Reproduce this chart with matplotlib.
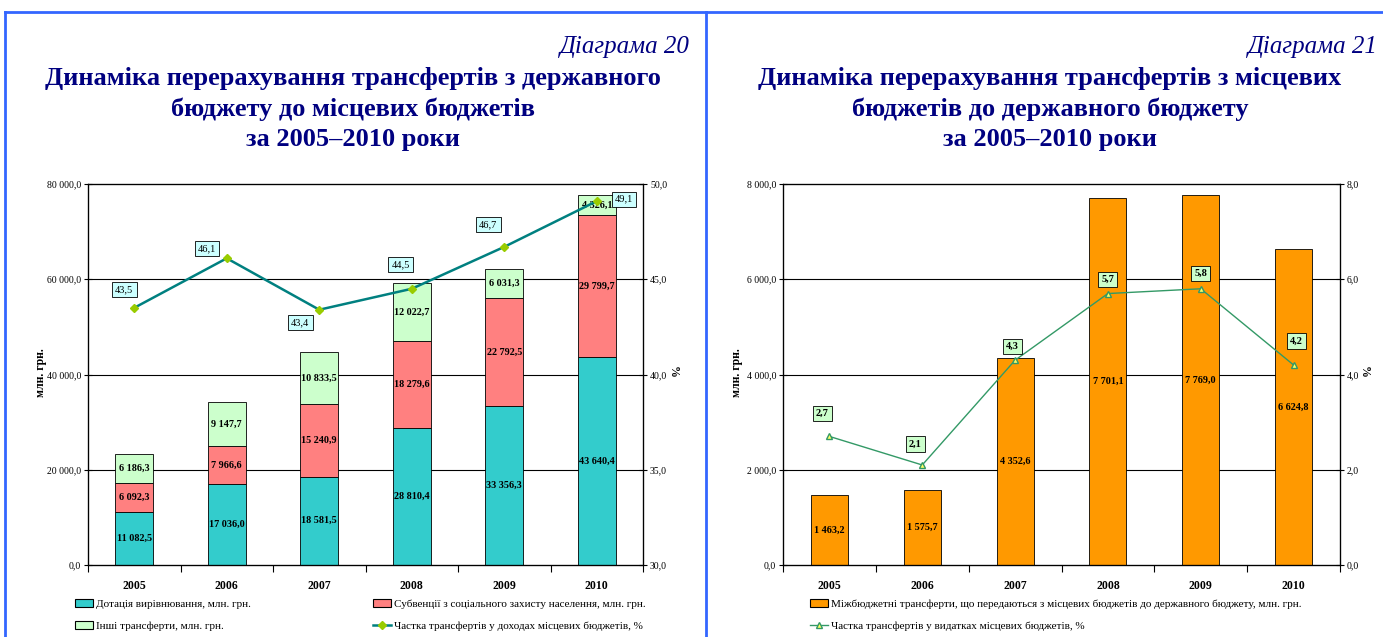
import numpy as np
import matplotlib
matplotlib.use("Agg")
import matplotlib.pyplot as plt
from matplotlib.patches import Patch
from matplotlib.lines import Line2D

plt.rcParams['font.family'] = ['Liberation Serif', 'DejaVu Serif']

years = ['2005', '2006', '2007', '2008', '2009', '2010']

# diagram 20: transfers from state budget to local budgets, mln UAH
dotacia = [11082.5, 17036.0, 18581.5, 28810.4, 33356.3, 43640.4]
subvencii = [6092.3, 7966.6, 15240.9, 18279.6, 22792.5, 29799.7]
inshi = [6186.3, 9147.7, 10833.5, 12022.7, 6031.3, 4326.1]
share_income = [43.5, 46.1, 43.4, 44.5, 46.7, 49.1]

# diagram 21: transfers from local budgets to state budget
mizhbudg = [1463.2, 1575.7, 4352.6, 7701.1, 7769.0, 6624.8]
share_spend = [2.7, 2.1, 4.3, 5.7, 5.8, 4.2]

W, H = 1383, 637
navy = '#000080'


def fmt(v):
    return f"{v:,.1f}".replace(",", " ").replace(".", ",")


def px(x, y):
    return x / W, 1 - y / H


fig = plt.figure(figsize=(W / 100, H / 100), dpi=100)
fig.patch.set_facecolor('white')

# blue frame
for xs, ys in [((5, W), (12, 12)), ((5, 5), (12, H)), ((706, 706), (12, H))]:
    fig.add_artist(Line2D([x / W for x in xs], [1 - y / H for y in ys], color='#3366FF', lw=2))

# titles
fig.text(*px(690, 47), 'Діаграма 20', ha='right', va='center', fontsize=18, style='italic', color=navy)
fig.text(*px(353, 109), 'Динаміка перерахування трансфертів з державного\nбюджету до місцевих бюджетів\nза 2005–2010 роки',
         ha='center', va='center', fontsize=19, fontweight='bold', color=navy, linespacing=1.38)
fig.text(*px(1378, 47), 'Діаграма 21', ha='right', va='center', fontsize=18, style='italic', color=navy)
fig.text(*px(1050, 109), 'Динаміка перерахування трансфертів з місцевих\nбюджетів до державного бюджету\nза 2005–2010 роки',
         ha='center', va='center', fontsize=19, fontweight='bold', color=navy, linespacing=1.38)

x = np.arange(len(years))


def style_axes(ax, ax2, ymax, ystep, y2lim, y2step):
    ax.set_facecolor('white')
    ax.set_xlim(-0.5, 5.5)
    ax.set_ylim(0, ymax)
    ax.set_yticks(np.arange(0, ymax + 1, ystep))
    ax.set_yticklabels([fmt(v) for v in np.arange(0, ymax + 1, ystep)])
    for v in np.arange(ystep, ymax, ystep):
        ax.axhline(v, color='black', lw=0.8, zorder=1)
    ax.set_xticks(x)
    ax.set_xticklabels(years, fontweight='bold', fontsize=8.5)
    ax.set_xticks(np.arange(-0.5, 6, 1), minor=True)
    ax.tick_params(axis='x', which='major', length=0, pad=11)
    ax.tick_params(axis='x', which='minor', length=5, direction='out', width=0.8)
    ax.tick_params(axis='y', labelsize=7, direction='inout', length=6, width=0.8, pad=2)
    for sp in ax.spines.values():
        sp.set_linewidth(0.9)
    ax2.set_ylim(*y2lim)
    t2 = np.arange(y2lim[0], y2lim[1] + 0.01, y2step)
    ax2.set_yticks(t2)
    ax2.set_yticklabels([fmt(v) for v in t2])
    ax2.tick_params(axis='y', labelsize=7, direction='inout', length=6, width=0.8, pad=2)


# ---- left chart
ax = fig.add_axes([88 / W, 72 / H, 555 / W, 381 / H])
ax2 = ax.twinx()
bw = 0.41
ax.bar(x, dotacia, bw, color='#33CCCC', edgecolor='black', lw=0.6, zorder=2)
ax.bar(x, subvencii, bw, bottom=dotacia, color='#FF8080', edgecolor='black', lw=0.6, zorder=2)
bot3 = np.array(dotacia) + np.array(subvencii)
ax.bar(x, inshi, bw, bottom=bot3, color='#CCFFCC', edgecolor='black', lw=0.6, zorder=2)
for bottoms, vals in [(np.zeros(6), dotacia), (np.array(dotacia), subvencii), (bot3, inshi)]:
    for i, v in enumerate(vals):
        ax.text(x[i], bottoms[i] + v / 2, fmt(v), ha='center', va='center', fontsize=7.3,
                fontweight='bold', zorder=3)
style_axes(ax, ax2, 80000, 20000, (30, 50), 5)
ax2.plot(x, share_income, color='#008080', lw=1.8, marker='D', ms=4.5, mfc='#99CC00', mec='#99CC00')
offs_l = [(-10, 18), (-20, 10), (-19, -13), (-11, 24), (-16, 22), (27, 2)]
for i, v in enumerate(share_income):
    ax2.annotate(fmt(v), (x[i], v), xytext=offs_l[i], textcoords='offset pixels', ha='center', va='center',
                 fontsize=7.5, bbox=dict(boxstyle='square,pad=0.3', fc='#CCFFFF', ec='black', lw=0.6))
fig.text(*px(41, 373), 'млн. грн.', rotation=90, ha='center', va='center', fontsize=8.5, fontweight='bold')
fig.text(*px(673, 372), '%', rotation=270, ha='center', va='center', fontsize=8.5, fontweight='bold')

leg_kw = dict(loc='center left', frameon=False, fontsize=8, borderaxespad=0, borderpad=0,
              handlelength=1.6, handletextpad=0.25, handleheight=0.8)
fig.legend([Patch(fc='#33CCCC', ec='black', lw=0.8)], ['Дотація вирівнювання, млн. грн.'],
           bbox_to_anchor=px(75, 604), **leg_kw)
fig.legend([Patch(fc='#FF8080', ec='black', lw=0.8)], ['Субвенції з соціального захисту населення, млн. грн.'],
           bbox_to_anchor=px(373, 604), **leg_kw)
fig.legend([Patch(fc='#CCFFCC', ec='black', lw=0.8)], ['Інші трансферти, млн. грн.'],
           bbox_to_anchor=px(75, 626), **leg_kw)
fig.legend([Line2D([], [], color='#008080', lw=1.8, marker='D', ms=4, mfc='#99CC00', mec='#99CC00')],
           ['Частка трансфертів у доходах місцевих бюджетів, %'], bbox_to_anchor=px(373, 626), **leg_kw)

# ---- right chart
bx = fig.add_axes([783 / W, 72 / H, 557 / W, 381 / H])
bx2 = bx.twinx()
bx.bar(x, mizhbudg, 0.4, color='#FF9900', edgecolor='black', lw=0.6, zorder=2)
for i, v in enumerate(mizhbudg):
    bx.text(x[i], v / 2, fmt(v), ha='center', va='center', fontsize=7.3, fontweight='bold', zorder=3)
style_axes(bx, bx2, 8000, 2000, (0, 8), 2)
bx2.plot(x, share_spend, color='#339966', lw=1, marker='^', ms=5, mfc='#FFFF66', mec='#339966')
offs_r = [(-7, 23), (-7, 21), (-3, 14), (0, 14), (0, 15), (3, 24)]
for i, v in enumerate(share_spend):
    bx2.annotate(fmt(v), (x[i], v), xytext=offs_r[i], textcoords='offset pixels', ha='center', va='center',
                 fontsize=7.5, fontweight='bold',
                 bbox=dict(boxstyle='square,pad=0.3', fc='#CCFFCC', ec='black', lw=0.6))
fig.text(*px(737, 373), 'млн. грн.', rotation=90, ha='center', va='center', fontsize=8.5, fontweight='bold')
fig.text(*px(1364, 372), '%', rotation=270, ha='center', va='center', fontsize=8.5, fontweight='bold')
fig.legend([Patch(fc='#FF9900', ec='black', lw=0.8)],
           ['Міжбюджетні трансферти, що передаються з місцевих бюджетів до державного бюджету, млн. грн.'],
           bbox_to_anchor=px(810, 604), **leg_kw)
fig.legend([Line2D([], [], color='#339966', lw=1, marker='^', ms=4, mfc='#FFFF66', mec='#339966')],
           ['Частка трансфертів у видатках місцевих бюджетів, %'], bbox_to_anchor=px(810, 626), **leg_kw)

fig.savefig('out.png', dpi=100)
